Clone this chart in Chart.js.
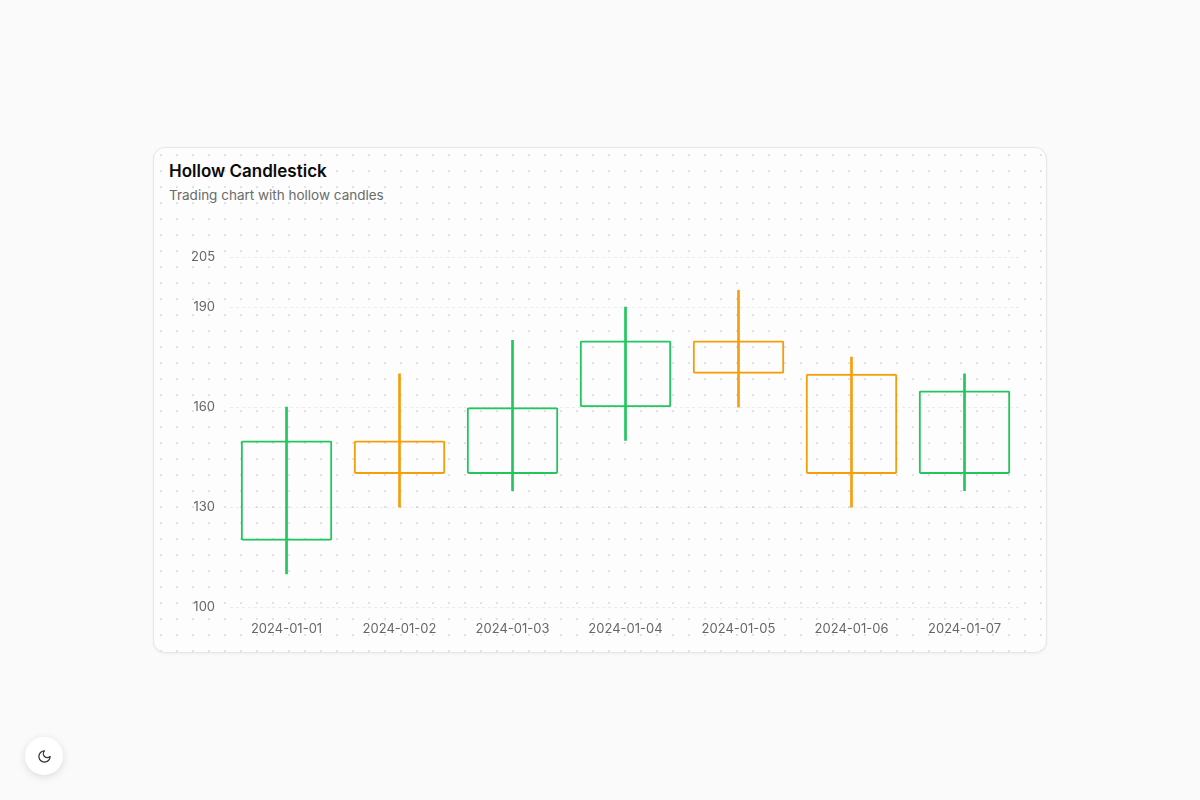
<!DOCTYPE html>
<html>
<head>
<meta charset="utf-8">
<script src="https://cdn.jsdelivr.net/npm/chart.js@4"></script>
<style>
  html, body { margin: 0; padding: 0; }
  body {
    width: 1200px; height: 800px; background: #fafafa;
    font-family: Inter, "Noto Sans", sans-serif; position: relative; overflow: hidden;
  }
  .card {
    position: absolute; left: 153px; top: 147px; width: 894px; height: 506px;
    box-sizing: border-box; border: 1px solid #e6e6e6; border-radius: 12px;
    background-color: #fdfdfd;
    background-image: radial-gradient(circle, #e2e2e2 1px, transparent 1.2px);
    background-size: 16px 16px;
    background-position: -1px -1px;
    box-shadow: 0 1px 3px rgba(0,0,0,0.05);
  }
  .title { position: absolute; left: 15px; top: 13px; font-size: 17px; font-weight: 600; color: #0a0a0a; }
  .subtitle { position: absolute; left: 15px; top: 39px; font-size: 13.5px; color: #6b6b6b; }
  .chart-box { position: absolute; left: 15px; top: 76px; width: 862px; height: 427px; }
  .theme-btn {
    position: absolute; left: 25px; top: 737px; width: 38px; height: 38px; border-radius: 50%;
    background: #fff; box-shadow: 0 2px 8px rgba(0,0,0,0.12); display: flex; align-items: center; justify-content: center;
  }
</style>
</head>
<body>
<div class="card">
  <div class="title">Hollow Candlestick</div>
  <div class="subtitle">Trading chart with hollow candles</div>
  <div class="chart-box"><canvas id="candle-chart"></canvas></div>
</div>
<div class="theme-btn">
  <svg width="15" height="15" viewBox="0 0 24 24" fill="none" stroke="#333" stroke-width="2" stroke-linecap="round" stroke-linejoin="round"><path d="M12 3a6 6 0 0 0 9 9 9 9 0 1 1-9-9Z"/></svg>
</div>
<script>
Chart.defaults.font.family = 'Inter'

const dates = ["2024-01-01", "2024-01-02", "2024-01-03", "2024-01-04", "2024-01-05", "2024-01-06", "2024-01-07"];
const opens = [120, 150, 140, 160, 180, 170, 140];
const closes = [150, 140, 160, 180, 170, 140, 165];
const highs = [160, 170, 180, 190, 195, 175, 170];
const lows = [110, 130, 135, 150, 160, 130, 135];
const yTicks = [100, 130, 160, 190, 205];

const upColor = '#22c55e';
const downColor = '#f59e0b';

const candleColors = opens.map((o, i) => closes[i] >= o ? upColor : downColor);

const config = {
  type: 'bar',
  data: {
    labels: dates,
    datasets: [
      {
        label: 'Wick',
        data: dates.map((d, i) => [lows[i], highs[i]]),
        backgroundColor: candleColors,
        borderWidth: 0,
        barThickness: 2,
        grouped: false
      },
      {
        label: 'Body',
        data: dates.map((d, i) => [opens[i], closes[i]]),
        backgroundColor: 'rgba(0,0,0,0)',
        borderColor: candleColors,
        borderWidth: 2,
        borderSkipped: false,
        borderRadius: 2,
        barPercentage: 1,
        categoryPercentage: 0.81,
        grouped: false
      }
    ]
  },
  options: {
    responsive: true,
    maintainAspectRatio: false,
    animation: false,
    layout: {
      padding: { left: 7, right: 10, top: 33, bottom: 0 }
    },
    plugins: {
      legend: { display: false },
      tooltip: { enabled: false }
    },
    scales: {
      x: {
        grid: { display: false, drawTicks: false },
        border: { display: false },
        ticks: { color: '#666', font: { size: 13 }, padding: 14 }
      },
      y: {
        min: 100,
        max: 205,
        afterBuildTicks: (axis) => {
          axis.ticks = yTicks.map(v => ({ value: v }));
        },
        grid: { color: 'rgba(0,0,0,0.07)', drawTicks: false },
        border: { display: false, dash: [3, 3] },
        ticks: { color: '#666', font: { size: 13 }, padding: 15 }
      }
    }
  }
};

const ctx = document.getElementById('candle-chart').getContext('2d');
const candleChart = new Chart(ctx, config);
</script>
</body>
</html>
